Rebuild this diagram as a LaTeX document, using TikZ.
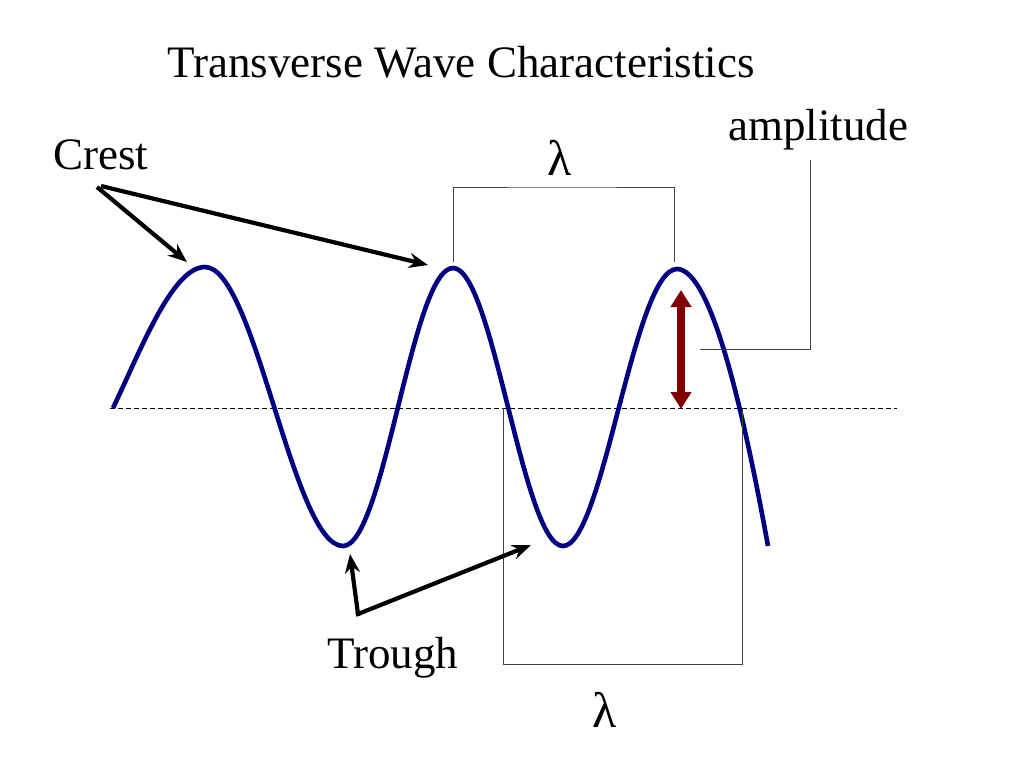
\documentclass[tikz,border=0pt]{standalone}
\usepackage{fontspec}
\setmainfont{Liberation Serif}
\usetikzlibrary{arrows.meta}

\begin{document}
\begin{tikzpicture}[x=1pt,y=-1pt,
  label text/.style={font=\fontsize{45}{50}\selectfont,inner sep=0pt},
  pointer/.style={-{Stealth[length=19pt,width=15pt]},line width=4.2pt,black},
  bracket/.style={draw=black!75,line width=1pt},
  wave/.style={draw={rgb,255:red,0;green,0;blue,128},line width=4.6pt}]
  \useasboundingbox (0,0) rectangle (1024,768);

  % labels
  \node[label text] (title) at (461,62) {Transverse Wave Characteristics};
  \node[label text] (crest) at (101,155) {Crest};
  \node[label text] (trough) at (393,658) {Trough};
  \node[label text] (amp) at (818,130) {amplitude};
  \node[label text,font=\fontsize{50}{55}\selectfont] (lamtop) at (560,158) {λ};
  \node[label text,font=\fontsize{50}{55}\selectfont] (lambot) at (605,710) {λ};

  % axis
  \draw[dash pattern=on 5pt off 3pt,line width=0.9pt] (110,408) -- (897,408);

  % wave
  \draw[wave] (113,408) .. controls (140,352) and (172,267) .. (205,267)
    .. controls (255,267) and (293,546) .. (343,546)
    .. controls (384,546) and (412,268) .. (453,268)
    .. controls (493,268) and (523,546) .. (563,546)
    .. controls (603,546) and (634,269) .. (677,269)
    .. controls (712,269) and (745,420) .. (768,546);

  % brackets
  \coordinate (t1) at (453,262);
  \coordinate (t2) at (674,262);
  \coordinate (b1) at (503,408);
  \coordinate (b2) at (742,408);
  \coordinate (a1) at (700,349);
  \draw[bracket] (t1) |- (560,187) -| (t2);
  \draw[bracket] (b1) |- (620,664) -| (b2);
  \draw[bracket] (a1) -- (810,349) -- (810,160);

  % amplitude arrow
  \coordinate (ahi) at (681,290);
  \coordinate (alo) at (681,409);
  \draw[{Triangle[length=17pt,width=20pt]}-{Triangle[length=17pt,width=20pt]},line width=8pt,draw={rgb,255:red,128;green,0;blue,0},fill={rgb,255:red,128;green,0;blue,0}] (ahi) -- (alo);

  % pointers
  \coordinate (c0) at (97,187);
  \coordinate (c1) at (101,186);
  \coordinate (crest1) at (187,262);
  \coordinate (crest2) at (428,265);
  \coordinate (tr0) at (358,614);
  \coordinate (trough1) at (350,554);
  \coordinate (trough2) at (531,545);
\path[pointer]
  (c0) edge (crest1)
  (c1) edge (crest2)
  (tr0) edge[shorten <=-2pt] (trough1)
  (tr0) edge[shorten <=-2pt] (trough2);
\end{tikzpicture}
\end{document}
